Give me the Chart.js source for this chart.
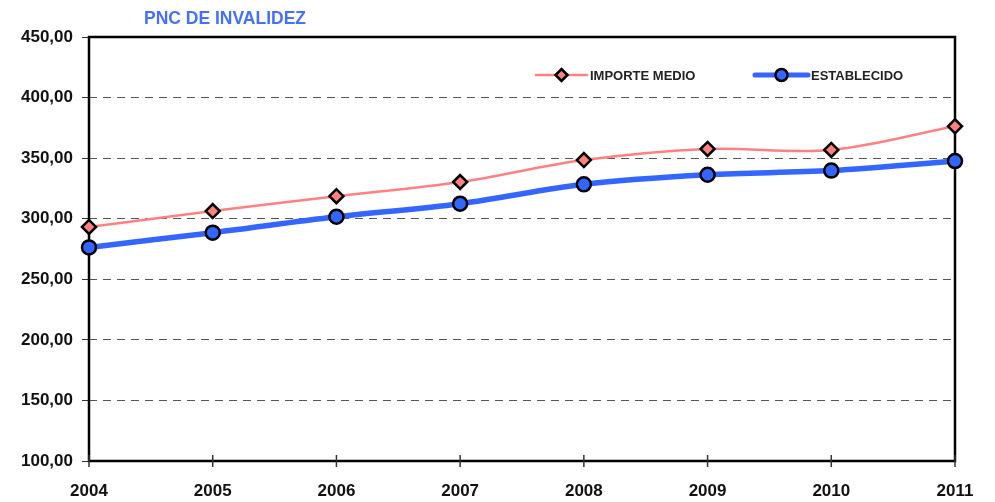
<!DOCTYPE html>
<html>
<head>
<meta charset="utf-8">
<script src="https://cdn.jsdelivr.net/npm/chart.js@4.4.1/dist/chart.umd.min.js"></script>
<style>
  html, body { margin: 0; padding: 0; background: #fff; }
  #wrap { width: 995px; height: 502px; }
</style>
</head>
<body>
<div id="wrap"><canvas id="chart"></canvas></div>
<script>
// ================================
// Data
// ================================
const years = ['2004', '2005', '2006', '2007', '2008', '2009', '2010', '2011'];
const importeMedio = [293.2, 306.3, 318.6, 330.3, 348.4, 357.6, 356.8, 376.3];
const establecido = [276.3, 288.5, 301.6, 312.4, 328.4, 336.3, 339.7, 347.6];
const chartTitle = 'PNC DE INVALIDEZ';

const FONT = '"Liberation Sans Narrow", "Arial Narrow", "Liberation Sans", Arial, sans-serif';
const RED = '#ff8080';
const BLUE = '#3366ff';

// ================================
// Plugins: frame, title, legend, x ticks
// ================================
const framePlugin = {
    id: 'frame',
    beforeDatasetsDraw(chart) {
        const a = chart.chartArea;
        const ctx = chart.ctx;
        ctx.save();
        ctx.strokeStyle = '#000';
        ctx.lineWidth = 2.5;
        ctx.strokeRect(a.left, a.top, a.right - a.left, a.bottom - a.top);
        // x ticks crossing the axis
        const xs = chart.scales.x;
        ctx.lineWidth = 1.5;
        ctx.strokeStyle = '#333';
        xs.ticks.forEach((t, i) => {
            const x = xs.getPixelForTick(i);
            ctx.beginPath();
            ctx.moveTo(x, a.bottom - 6);
            ctx.lineTo(x, a.bottom + 6);
            ctx.stroke();
        });
        ctx.restore();
    }
};

function drawMarker(ctx, style, x, y, r, fill) {
    ctx.beginPath();
    if (style === 'rectRot') {
        ctx.moveTo(x, y - r);
        ctx.lineTo(x + r, y);
        ctx.lineTo(x, y + r);
        ctx.lineTo(x - r, y);
        ctx.closePath();
    } else {
        ctx.arc(x, y, r, 0, Math.PI * 2);
    }
    ctx.fillStyle = fill;
    ctx.fill();
    ctx.lineWidth = 2.5;
    ctx.strokeStyle = '#000';
    ctx.stroke();
}

const labelsPlugin = {
    id: 'labels',
    afterDraw(chart) {
        const ctx = chart.ctx;
        ctx.save();
        // title
        ctx.fillStyle = '#4470ff';
        ctx.font = 'bold 17.5px ' + FONT;
        ctx.textAlign = 'center';
        ctx.textBaseline = 'middle';
        ctx.fillText(chartTitle, 225, 19);

        // legend
        const items = [
            { ds: chart.data.datasets[0], x0: 536, x1: 587, w: 2.5, r: 6 },
            { ds: chart.data.datasets[1], x0: 755, x1: 808, w: 5, r: 6 }
        ];
        items.forEach(it => {
            const y = 75;
            ctx.strokeStyle = it.ds.borderColor;
            ctx.lineWidth = it.w;
            ctx.lineCap = 'round';
            ctx.beginPath();
            ctx.moveTo(it.x0, y);
            ctx.lineTo(it.x1, y);
            ctx.stroke();
            drawMarker(ctx, it.ds.pointStyle, (it.x0 + it.x1) / 2, y, it.r, it.ds.pointBackgroundColor);
            ctx.fillStyle = '#222';
            ctx.font = 'bold 13px ' + FONT;
            ctx.textAlign = 'left';
            ctx.fillText(it.ds.label, it.x1 + 3, y + 1);
        });
        ctx.restore();
    }
};

// ================================
// Chart
// ================================
new Chart(document.getElementById('chart'), {
    type: 'line',
    data: {
        labels: years,
        datasets: [{
            label: 'IMPORTE MEDIO',
            data: importeMedio,
            borderColor: RED,
            borderWidth: 2.5,
            pointStyle: 'rectRot',
            pointRadius: 7,
            pointBackgroundColor: RED,
            pointBorderColor: '#000',
            pointBorderWidth: 2.5,
            tension: 0.35
        }, {
            label: 'ESTABLECIDO',
            data: establecido,
            borderColor: BLUE,
            borderWidth: 5.5,
            pointStyle: 'circle',
            pointRadius: 7,
            pointBackgroundColor: BLUE,
            pointBorderColor: '#000',
            pointBorderWidth: 2.5,
            tension: 0.35
        }]
    },
    options: {
        responsive: true,
        maintainAspectRatio: false,
        animation: false,
        layout: { padding: { top: 37, right: 40, left: 0, bottom: 0 } },
        plugins: {
            legend: { display: false },
            title: { display: false },
            tooltip: { enabled: false }
        },
        scales: {
            x: {
                offset: false,
                grid: { display: false },
                border: { display: false },
                ticks: {
                    color: '#111',
                    padding: 12,
                    maxRotation: 0,
                    font: { family: FONT, size: 17, weight: 'bold' }
                },
                afterFit(scale) { scale.height = 41; }
            },
            y: {
                min: 100,
                max: 450,
                grid: {
                    color: '#555',
                    lineWidth: 1,
                    tickLength: 7,
                    tickColor: '#333'
                },
                border: { display: false, dash: [8, 6] },
                ticks: {
                    stepSize: 50,
                    padding: 9,
                    color: '#111',
                    font: { family: FONT, size: 17, weight: 'bold' },
                    callback: v => v.toFixed(2).replace('.', ',')
                },
                afterFit(scale) { scale.width = 89; }
            }
        }
    },
    plugins: [framePlugin, labelsPlugin]
});
</script>
</body>
</html>
